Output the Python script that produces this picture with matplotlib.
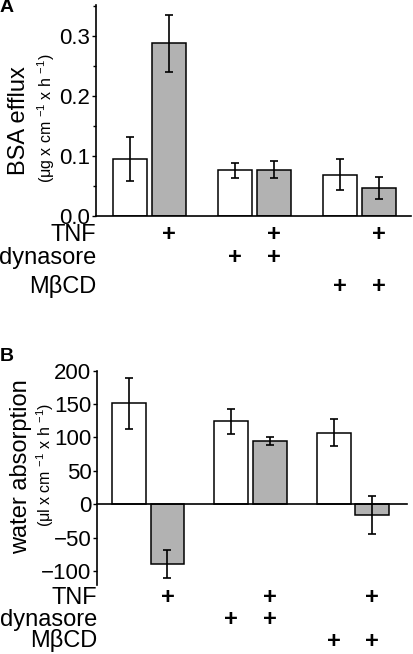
import matplotlib
matplotlib.use("Agg")
import matplotlib.pyplot as plt
import matplotlib.transforms as mtransforms
import numpy as np

plt.rcParams['font.family'] = ['Liberation Sans', 'DejaVu Sans']
plt.rcParams['mathtext.fontset'] = 'custom'
plt.rcParams['mathtext.rm'] = 'Liberation Sans'
plt.rcParams['mathtext.it'] = 'Liberation Sans'

# ---- data ----
conditions = ["ctrl", "TNF", "dynasore", "dynasore+TNF", "MβCD", "MβCD+TNF"]
tnf =      ["", "+", "", "+", "", "+"]
dynasore = ["", "", "+", "+", "", ""]
mbcd =     ["", "", "", "", "+", "+"]
row_labels = ["TNF", "dynasore", "MβCD"]

bsa_mean = [0.095, 0.288, 0.076, 0.077, 0.069, 0.047]
bsa_err  = [0.037, 0.047, 0.013, 0.014, 0.026, 0.018]

water_mean = [151, -89, 124, 95, 107, -16]
water_err  = [38, 21, 19, 6, 20, 29]

bar_colors = ["white", "#b2b2b2", "white", "#b2b2b2", "white", "#b2b2b2"]

positions = [0, 1, 2.66, 3.66, 5.32, 6.32]

W, H = 413, 654
fig = plt.figure(figsize=(W / 100, H / 100), dpi=100)


def draw_panel(ax, means, errs, width, table_base, letter, letter_y,
               ylabel, sublabel, ylab_x, sub_x, ylab_y, sub_y):
    ax.bar(positions, means, width=width, color=bar_colors,
           edgecolor="black", linewidth=1.1, zorder=2)
    ax.errorbar(positions, means, yerr=errs, fmt="none", ecolor="black",
                elinewidth=1.2, capsize=3, capthick=1.2, zorder=3)
    for s in ["top", "right"]:
        ax.spines[s].set_visible(False)
    ax.spines["bottom"].set_position(("data", 0))
    ax.spines["left"].set_linewidth(1.2)
    ax.spines["bottom"].set_linewidth(1.2)
    ax.set_xticks([])
    ax.tick_params(axis="y", direction="out", length=3, width=1,
                   labelsize=16, pad=1)
    ax.tick_params(axis="y", which="minor", direction="out", length=2.5, width=1)
    tr = mtransforms.blended_transform_factory(ax.transData, fig.transFigure)
    trl = mtransforms.blended_transform_factory(ax.transAxes, fig.transFigure)
    rows = [tnf, dynasore, mbcd]
    for lbl, row, yy in zip(row_labels, rows, table_base):
        fig.text(0.0, 1 - yy / H, lbl, transform=trl, ha="right",
                 va="baseline", fontsize=17)
        for p, m in zip(positions, row):
            if m:
                ax.text(p, 1 - yy / H, m, transform=tr, ha="center",
                        va="baseline", fontsize=17, fontweight="bold")
    fig.text(0.0, 1 - letter_y / H, letter, fontsize=14, fontweight="bold",
             ha="left", va="center")
    fig.text(ylab_x / W, 1 - ylab_y / H, ylabel, rotation=90, fontsize=17,
             ha="center", va="center")
    fig.text(sub_x / W, 1 - sub_y / H, sublabel, rotation=90, fontsize=11.5,
             ha="center", va="center")


# Panel A
axA_left, axA_right = 96 / W, 411 / W
axA_bottom, axA_top = 1 - 216 / H, 1 - 5 / H
axA = fig.add_axes([axA_left, axA_bottom, axA_right - axA_left, axA_top - axA_bottom])
axA.set_xlim(-0.85, 7.13)
axA.set_ylim(0, 0.352)
axA.set_yticks([0.0, 0.1, 0.2, 0.3])
axA.set_yticklabels(["0.0", "0.1", "0.2", "0.3"])
axA.set_yticks([0.05, 0.15, 0.25, 0.35], minor=True)
draw_panel(axA, bsa_mean, bsa_err, 0.86, [241, 264, 293], "A", 7,
           "BSA efflux", r"(μg x cm $^{-1}$ x h $^{-1}$)", 19, 46, 121, 118)

# Panel B
axB_left, axB_right = 97 / W, 407 / W
axB_bottom, axB_top = 1 - 585 / H, 1 - 370.7 / H
axB = fig.add_axes([axB_left, axB_bottom, axB_right - axB_left, axB_top - axB_bottom])
axB.set_xlim(-0.83, 7.22)
axB.set_ylim(-121, 200)
axB.set_yticks([-100, -50, 0, 50, 100, 150, 200])
draw_panel(axB, water_mean, water_err, 0.88, [604, 626, 647.5], "B", 357,
           "water absorption", r"(μl x cm $^{-1}$ x h $^{-1}$)", 21.5, 45.5, 467, 465)

fig.savefig("out.png", dpi=100)
